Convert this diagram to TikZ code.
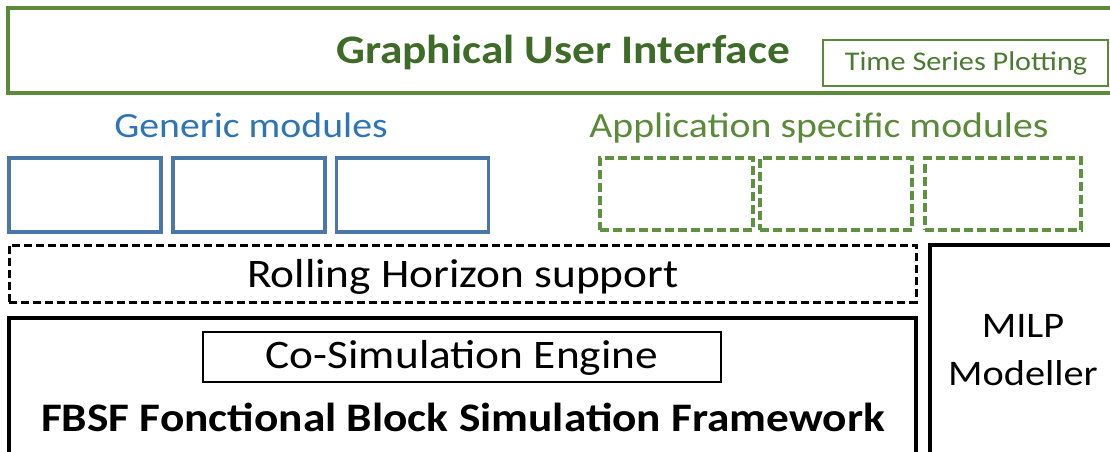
\documentclass[tikz,border=0pt]{standalone}
\usepackage{fontspec}
\setmainfont{Carlito}[FakeStretch=1.12]
\definecolor{guigreen}{HTML}{5A8A3A}
\definecolor{titlegreen}{HTML}{3E6B28}
\definecolor{tspgreen}{HTML}{4B7A32}
\definecolor{modblue}{HTML}{2E75B6}
\definecolor{boxblue}{HTML}{4A76A8}
\definecolor{dashgreen}{HTML}{5E9140}
\begin{document}
\begin{tikzpicture}[x=1pt,y=-1pt,
  box/.style={draw, rectangle, inner sep=0pt},
  genbox/.style={box, draw=boxblue, line width=3.5pt, minimum width=152pt, minimum height=74pt},
  appbox/.style={box, draw=dashgreen, line width=3.2pt, dash pattern=on 9pt off 4pt, minimum height=72pt},
  lbl/.style={inner sep=0pt, anchor=center}
]
\useasboundingbox (0,0) rectangle (1110,451);
% GUI
\node[box, draw=guigreen, line width=3.5pt, minimum width=1117pt, minimum height=85pt] (gui) at (566.5,50.5) {};
\node[lbl, font=\fontsize{40.5}{46}\selectfont\bfseries, text=titlegreen] (guitext) at (563,52) {Graphical User Interface};
\node[box, draw=guigreen, line width=1.8pt, minimum width=285pt, minimum height=46pt] (tsp) at (965.5,63) {};
\node[lbl, font=\fontsize{27}{32}\selectfont, text=tspgreen] (tsptext) at (966,63) {Time Series Plotting};
% module headings
\node[lbl, anchor=base, font=\fontsize{35.5}{42}\selectfont, text=modblue] (generic) at (251,137) {Generic modules};
\node[lbl, anchor=base, font=\fontsize{35.5}{42}\selectfont, text=guigreen] (appl) at (819,137) {Application specific modules};
% generic boxes
\node[genbox] (g1) at (85,195) {};
\node[genbox] (g2) at (249,195) {};
\node[genbox] (g3) at (412.5,195) {};
% application boxes
\node[appbox, minimum width=153pt] (a1) at (676.5,194) {};
\node[appbox, minimum width=152pt] (a2) at (836,194) {};
\node[appbox, minimum width=156pt] (a3) at (1003,194) {};
% rolling horizon
\node[box, line width=3pt, dash pattern=on 8pt off 4pt, minimum width=907pt, minimum height=57pt] (rh) at (462.5,273.5) {};
\node[lbl, font=\fontsize{40.5}{46}\selectfont] (rhtext) at (463,276.5) {Rolling Horizon support};
% FBSF
\node[box, line width=3.5pt, minimum width=907pt, minimum height=152pt] (fbsf) at (462.5,394) {};
\node[box, line width=2pt, minimum width=518pt, minimum height=50pt] (cosim) at (462,357) {};
\node[lbl, font=\fontsize{40.5}{46}\selectfont] (cosimtext) at (462,358) {Co-Simulation Engine};
\node[lbl, font=\fontsize{40.5}{46}\selectfont\bfseries] (fbsftext) at (463,417) {FBSF Fonctional Block Simulation Framework};
% MILP
\node[box, line width=3.5pt, minimum width=195pt, minimum height=225pt] (milp) at (1027.5,357.5) {};
\node[lbl, font=\fontsize{36}{48}\selectfont, align=center] (milptext) at (1023,350) {MILP\\Modeller};
\end{tikzpicture}
\end{document}
